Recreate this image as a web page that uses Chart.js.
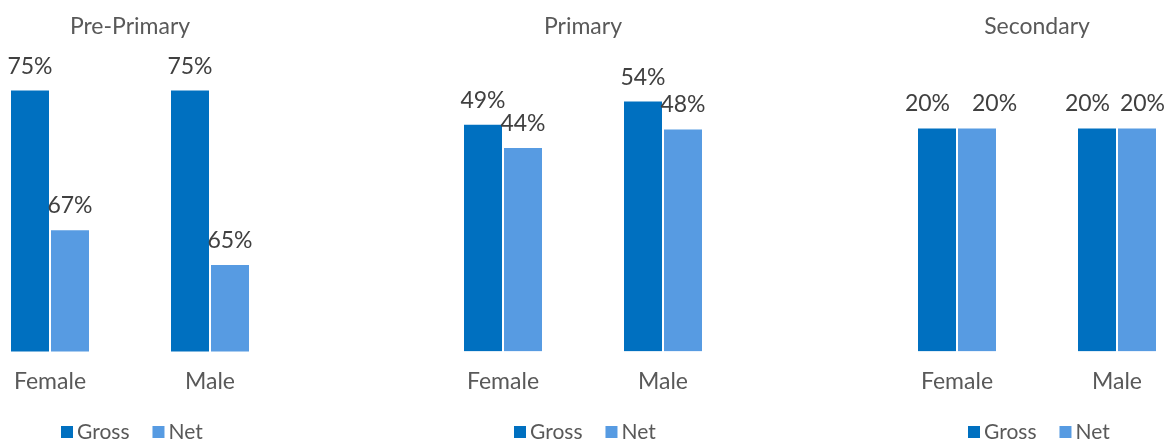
<!DOCTYPE html>
<html>
<head>
<meta charset="utf-8">
<script src="https://cdn.jsdelivr.net/npm/chart.js@4.4.0/dist/chart.umd.min.js"></script>
<style>
  html, body { margin: 0; padding: 0; background: #ffffff; overflow: hidden; width: 1168px; height: 441px; }
  .panel { position: absolute; top: 0; width: 320px; height: 441px; }
</style>
</head>
<body>
<div class="panel" style="left:-30px"><canvas id="c0"></canvas></div>
<div class="panel" style="left:423px"><canvas id="c1"></canvas></div>
<div class="panel" style="left:877px"><canvas id="c2"></canvas></div>
<script>
const categories = ['Female', 'Male'];
const seriesNames = ['Gross', 'Net'];
const panelTitles = ['Pre-Primary', 'Primary', 'Secondary'];

const preGross = [75, 75];
const preNet = [67, 65];
const primaryGross = [49, 54];
const primaryNet = [44, 48];
const secondaryGross = [20, 20];
const secondaryNet = [20, 20];

const axisMin = [60, 0, 0];
const axisMax = [77, 63.9, 26.5];

const panelData = [
  [preGross, preNet],
  [primaryGross, primaryNet],
  [secondaryGross, secondaryNet]
];

const COLORS = ['#0070C0', '#579BE2'];
const FONT = 'Lato, "Open Sans", sans-serif';
const FSIZE = 23;
const LEGEND_FSIZE = 21;

const valueLabels = {
  id: 'valueLabels',
  afterDatasetsDraw(chart) {
    const ctx = chart.ctx;
    ctx.save();
    ctx.font = FSIZE + 'px ' + FONT;
    ctx.fillStyle = '#404040';
    ctx.textAlign = 'left';
    ctx.textBaseline = 'alphabetic';
    const pageLeft = chart.canvas.getBoundingClientRect().left;
    const maxRight = window.innerWidth - 3 - pageLeft;
    const m0 = chart.getDatasetMeta(0), m1 = chart.getDatasetMeta(1);
    chart.data.labels.forEach((_, i) => {
      const b0 = m0.data[i], b1 = m1.data[i];
      const t0 = chart.data.datasets[0].data[i] + '%';
      const t1 = chart.data.datasets[1].data[i] + '%';
      const w0 = ctx.measureText(t0).width, w1 = ctx.measureText(t1).width;
      const y0 = b0.y - 16, y1 = b1.y - 16;
      let x0 = b0.x - w0 / 2, x1 = b1.x - w1 / 2;
      if (Math.abs(y0 - y1) < 16 && x0 + w0 > x1 - 2) {
        const boundary = b0.x + b0.width / 2;
        x0 = boundary - 7 - w0;
        x1 = Math.min(boundary + 15, maxRight - w1);
      }
      ctx.fillText(t0, x0, y0);
      ctx.fillText(t1, x1, y1);
    });
    ctx.restore();
  }
};

const bottomLegend = {
  id: 'bottomLegend',
  afterDraw(chart) {
    const ctx = chart.ctx;
    ctx.save();
    ctx.font = LEGEND_FSIZE + 'px ' + FONT;
    ctx.textBaseline = 'alphabetic';
    ctx.textAlign = 'left';
    const box = 12, gapText = 4, gapItem = 23;
    const items = chart.data.datasets.map(ds => ({ text: ds.label, color: ds.backgroundColor, w: ctx.measureText(ds.label).width }));
    let total = 0;
    items.forEach((it, k) => { total += box + gapText + it.w + (k < items.length - 1 ? gapItem : 0); });
    let x = Math.round(chart.width / 2 - total / 2 + 2);
    const boxTop = 426, baseline = 438.5;
    items.forEach(it => {
      ctx.fillStyle = it.color;
      ctx.fillRect(x, boxTop, box, box);
      x += box + gapText;
      ctx.fillStyle = '#595959';
      ctx.fillText(it.text, x, baseline);
      x += it.w + gapItem;
    });
    ctx.restore();
  }
};

panelData.forEach((series, p) => {
  new Chart(document.getElementById('c' + p), {
    type: 'bar',
    data: {
      labels: categories,
      datasets: series.map((vals, s) => ({
        label: seriesNames[s],
        data: vals,
        backgroundColor: COLORS[s],
        borderColor: 'rgba(255,255,255,0.35)',
        borderWidth: 1,
        categoryPercentage: 0.5,
        barPercentage: 1.0
      }))
    },
    options: {
      responsive: true,
      maintainAspectRatio: false,
      animation: false,
      layout: { padding: { top: 0, bottom: 30, left: 0, right: 0 } },
      plugins: {
        title: {
          display: true,
          text: panelTitles[p],
          color: '#595959',
          font: { family: FONT, size: FSIZE, weight: 'normal' },
          padding: { top: 13, bottom: 14 }
        },
        legend: { display: false },
        tooltip: { enabled: false }
      },
      scales: {
        x: {
          grid: { display: false, drawTicks: false },
          border: { display: false },
          ticks: { color: '#595959', font: { family: FONT, size: FSIZE }, padding: 16 }
        },
        y: {
          display: false,
          min: axisMin[p],
          max: axisMax[p]
        }
      }
    },
    plugins: [valueLabels, bottomLegend]
  });
});
</script>
</body>
</html>
